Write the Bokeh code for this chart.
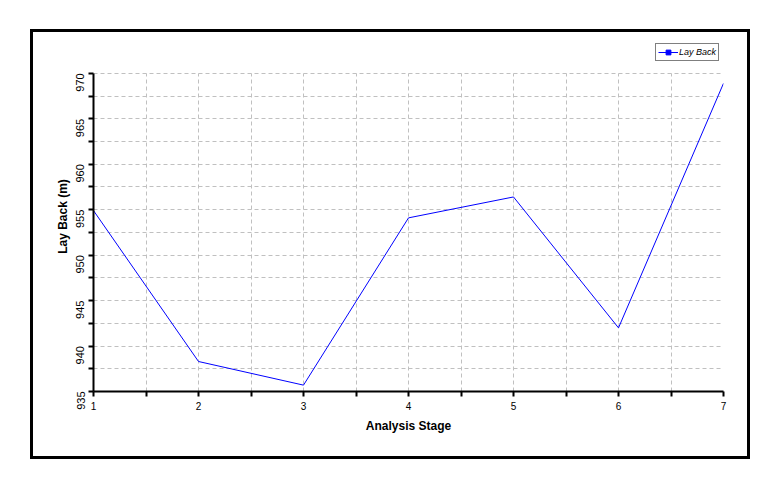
import math
from bokeh.plotting import figure
from bokeh.models import FixedTicker, Legend, LegendItem, Range1d, BoxAnnotation
from bokeh.embed import file_html
from bokeh.resources import INLINE

# ---- data ----
stages = [1, 2, 3, 4, 5, 6, 7]
lay_back = [954.9, 938.3, 935.7, 954.1, 956.4, 942.0, 968.9]

x_major = [1, 2, 3, 4, 5, 6, 7]
x_minor = [1.5, 2.5, 3.5, 4.5, 5.5, 6.5]
y_major = [935, 940, 945, 950, 955, 960, 965, 970]
y_minor = [937.5, 942.5, 947.5, 952.5, 957.5, 962.5, 967.5]

FONT = "Liberation Sans"
Y_LO, Y_HI = y_major[0], y_major[-1]

# frame extends above the axis top to leave room for the legend
p = figure(width=720, height=430,
           x_range=Range1d(1, 7), y_range=Range1d(Y_LO, 973.5),
           output_backend="svg", toolbar_location=None,
           min_border_left=60, min_border_right=30,
           min_border_top=9, min_border_bottom=71)
p.styles = {"border": "3px solid black"}
p.margin = (29, 0, 0, 30)
p.outline_line_color = None
p.background_fill_color = "white"
p.border_fill_color = "white"

# axes
for ax in (p.xaxis[0], p.yaxis[0]):
    ax.axis_line_width = 2
    ax.axis_line_color = "black"
    ax.major_tick_in = 0
    ax.major_tick_out = 5
    ax.minor_tick_in = 0
    ax.minor_tick_out = 5
    ax.major_tick_line_width = 2
    ax.minor_tick_line_width = 2
    ax.major_tick_line_color = "black"
    ax.minor_tick_line_color = "black"
    ax.major_label_text_font = FONT
    ax.major_label_text_color = "black"
    ax.axis_label_text_font = FONT
    ax.axis_label_text_font_style = "bold"
    ax.axis_label_text_font_size = "12px"
    ax.axis_label_text_color = "black"

p.xaxis.ticker = FixedTicker(ticks=x_major, minor_ticks=x_minor)
p.yaxis.ticker = FixedTicker(ticks=y_major, minor_ticks=y_minor)
p.yaxis.bounds = (Y_LO, Y_HI)
p.xaxis.major_label_text_font_size = "10px"
p.yaxis.major_label_text_font_size = "11px"
p.yaxis.major_label_orientation = math.pi / 2
p.xaxis.major_label_standoff = 5
p.yaxis.major_label_standoff = 8
p.xaxis.axis_label = "Analysis Stage"
p.yaxis.axis_label = "Lay Back (m)"
p.xaxis.axis_label_standoff = 6
p.yaxis.axis_label_standoff = 0

# grids
for g in (p.xgrid[0], p.ygrid[0]):
    g.grid_line_color = "#c0c0c0"
    g.grid_line_dash = "4 3"
    g.grid_line_width = 1
    g.minor_grid_line_color = "#c0c0c0"
    g.minor_grid_line_dash = "4 3"
    g.minor_grid_line_width = 1
try:
    p.xgrid[0].cross_bounds = (Y_LO, Y_HI)
except Exception:
    p.add_layout(BoxAnnotation(bottom=Y_HI + 0.1, fill_color="white", fill_alpha=1,
                               line_color=None))

# data
ln = p.line(stages, lay_back, line_color="#0000ff", line_width=1)
sc = p.scatter(stages, lay_back, marker="square", size=0,
               fill_color="#0000ff", line_color="#0000ff")

legend = Legend(items=[LegendItem(label="Lay Back", renderers=[ln, sc])],
                location=(562, 330),
                border_line_color="black", border_line_width=1,
                background_fill_color="white", background_fill_alpha=1,
                label_text_font=FONT, label_text_font_style="italic",
                label_text_font_size="9px", label_text_color="black",
                glyph_width=20, glyph_height=12, label_height=12,
                label_standoff=1, padding=2, margin=0, spacing=0)
p.add_layout(legend)

open("out.html", "w").write(file_html(p, INLINE))
